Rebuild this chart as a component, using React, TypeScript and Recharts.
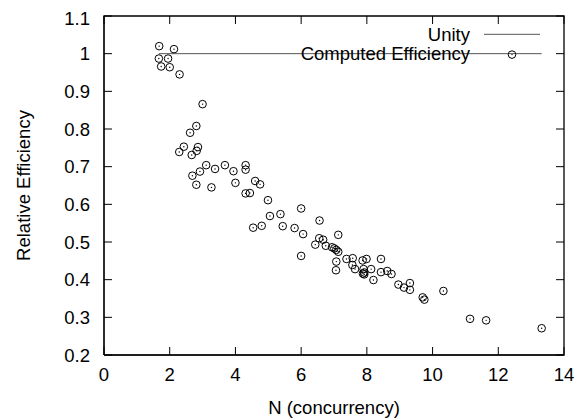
import React from "react";
import { ScatterChart, Scatter, XAxis, YAxis } from "recharts";

// N (concurrency) and relative efficiency
const nValues = [
  1.68, 2.13, 1.67, 1.95, 1.74, 2.0, 2.3, 3.0, 2.81, 2.62,
  2.43, 2.29, 2.86, 2.82, 2.67, 3.11, 3.38, 3.68, 3.94, 4.31,
  4.31, 2.92, 2.69, 2.81, 3.27, 4.0, 4.6, 4.75, 4.31, 4.44,
  4.99, 5.05, 5.37, 4.54, 4.8, 5.44, 5.8, 6.0, 6.06, 6.0,
  6.56, 6.55, 6.67, 6.43, 6.75, 7.13, 6.94, 7.01, 7.07, 7.13,
  7.07, 7.06, 7.38, 7.57, 7.56, 7.64, 7.87, 7.99, 7.9, 7.92,
  7.92, 7.88, 8.13, 8.2, 8.43, 8.43, 8.62, 8.75, 8.96, 9.13,
  9.31, 9.31, 9.7, 9.75, 10.33, 11.14, 11.63, 13.32,
];
const effValues = [
  1.02, 1.012, 0.987, 0.987, 0.966, 0.964, 0.945, 0.866, 0.808, 0.79,
  0.753, 0.739, 0.752, 0.742, 0.731, 0.704, 0.694, 0.704, 0.688, 0.704,
  0.692, 0.687, 0.676, 0.652, 0.645, 0.657, 0.662, 0.653, 0.629, 0.63,
  0.611, 0.569, 0.574, 0.538, 0.543, 0.542, 0.537, 0.589, 0.521, 0.463,
  0.557, 0.51, 0.506, 0.493, 0.49, 0.519, 0.486, 0.483, 0.479, 0.474,
  0.448, 0.425, 0.455, 0.457, 0.439, 0.428, 0.451, 0.455, 0.428, 0.419,
  0.414, 0.416, 0.428, 0.399, 0.455, 0.42, 0.423, 0.415, 0.387, 0.379,
  0.391, 0.373, 0.353, 0.347, 0.37, 0.296, 0.292, 0.271,
];
const xTicks = [0, 2, 4, 6, 8, 10, 12, 14];
const yTicks = [0.2, 0.3, 0.4, 0.5, 0.6, 0.7, 0.8, 0.9, 1, 1.1];
const seriesNames = ["Unity", "Computed Efficiency"];

const xMin = xTicks[0];
const xMax = xTicks[xTicks.length - 1];
const yMin = yTicks[0];
const yMax = yTicks[yTicks.length - 1];

const points = nValues.map((n, i) => ({ n, eff: effValues[i] }));
const unity = [
  { n: Math.min(...nValues), eff: 1 },
  { n: Math.max(...nValues), eff: 1 },
];
// gnuplot border box and mirrored tick marks (top / right)
const frame = [
  { n: xMin, eff: yMin },
  { n: xMax, eff: yMin },
  { n: xMax, eff: yMax },
  { n: xMin, eff: yMax },
  { n: xMin, eff: yMin },
];
const topTicks = xTicks.map((n) => ({ n, eff: yMax }));
const rightTicks = yTicks.map((eff) => ({ n: xMax, eff }));

const FONT = "'Liberation Sans', Arial, sans-serif";
const FS = 18.5;

const tickMark = (dx: number, dy: number) => (props: any) => {
  const { cx, cy } = props;
  if (cx == null || cy == null) return null;
  return <path d={`M${cx},${cy}l${dx},${dy}`} stroke="#000" strokeWidth={1} fill="none" />;
};

const CircleDot = (props: any) => {
  const { cx, cy } = props;
  if (cx == null || cy == null) return null;
  return (
    <g>
      <circle cx={cx} cy={cy} r={3.8} fill="none" stroke="#000" strokeWidth={1} />
      <circle cx={cx} cy={cy} r={0.7} fill="#000" />
    </g>
  );
};

// key box, top right inside the plot
const KeyBox = () => (
  <svg
    width={290}
    height={50}
    style={{ position: "absolute", left: 272, top: 16, overflow: "visible" }}
  >
    {seriesNames.map((name, i) => {
      const y = 10.3 + i * 19.3;
      return (
        <g key={name}>
          <text
            x={190}
            y={y}
            textAnchor="end"
            dominantBaseline="central"
            fontSize={FS}
            fontFamily={FONT}
            fill="#000"
          >
            {name}
          </text>
          {i === 0 ? (
            <line x1={204} x2={260} y1={y} y2={y} stroke="#555" strokeWidth={1} />
          ) : (
            <CircleDot cx={232} cy={y + 1} />
          )}
        </g>
      );
    })}
  </svg>
);

export default function App() {
  return (
    <div style={{ position: "relative", width: 578, height: 412 }}>
      <ScatterChart width={578} height={412} margin={{ top: 8, right: 22, left: 0, bottom: 0 }}>
        <XAxis
          dataKey="n"
          type="number"
          domain={[xMin, xMax]}
          ticks={xTicks}
          height={65}
          stroke="#000"
          tickSize={-8}
          tickMargin={21}
          tick={{ fill: "#000", fontSize: FS, fontFamily: FONT }}
          label={{
            value: "N (concurrency)",
            position: "center",
            dy: 19.5,
            fill: "#000",
            fontSize: FS,
            fontFamily: FONT,
          }}
        />
        <YAxis
          dataKey="eff"
          type="number"
          domain={[yMin, yMax]}
          ticks={yTicks}
          width={96}
          stroke="#000"
          tickSize={-8}
          tickMargin={22}
          tick={{ fill: "#000", fontSize: FS, fontFamily: FONT }}
          label={{
            value: "Relative Efficiency",
            angle: -90,
            position: "center",
            dx: -33,
            fill: "#000",
            fontSize: FS,
            fontFamily: FONT,
          }}
        />
        <Scatter
          data={frame}
          line={{ stroke: "#000", strokeWidth: 1.3 }}
          shape={() => null}
          isAnimationActive={false}
        />
        <Scatter data={topTicks} shape={tickMark(0, 8)} isAnimationActive={false} />
        <Scatter data={rightTicks} shape={tickMark(-8, 0)} isAnimationActive={false} />
        <Scatter
          name={seriesNames[0]}
          data={unity}
          line={{ stroke: "#555", strokeWidth: 1 }}
          shape={() => null}
          isAnimationActive={false}
        />
        <Scatter
          name={seriesNames[1]}
          data={points}
          shape={CircleDot}
          isAnimationActive={false}
        />
      </ScatterChart>
      <KeyBox />
    </div>
  );
}
